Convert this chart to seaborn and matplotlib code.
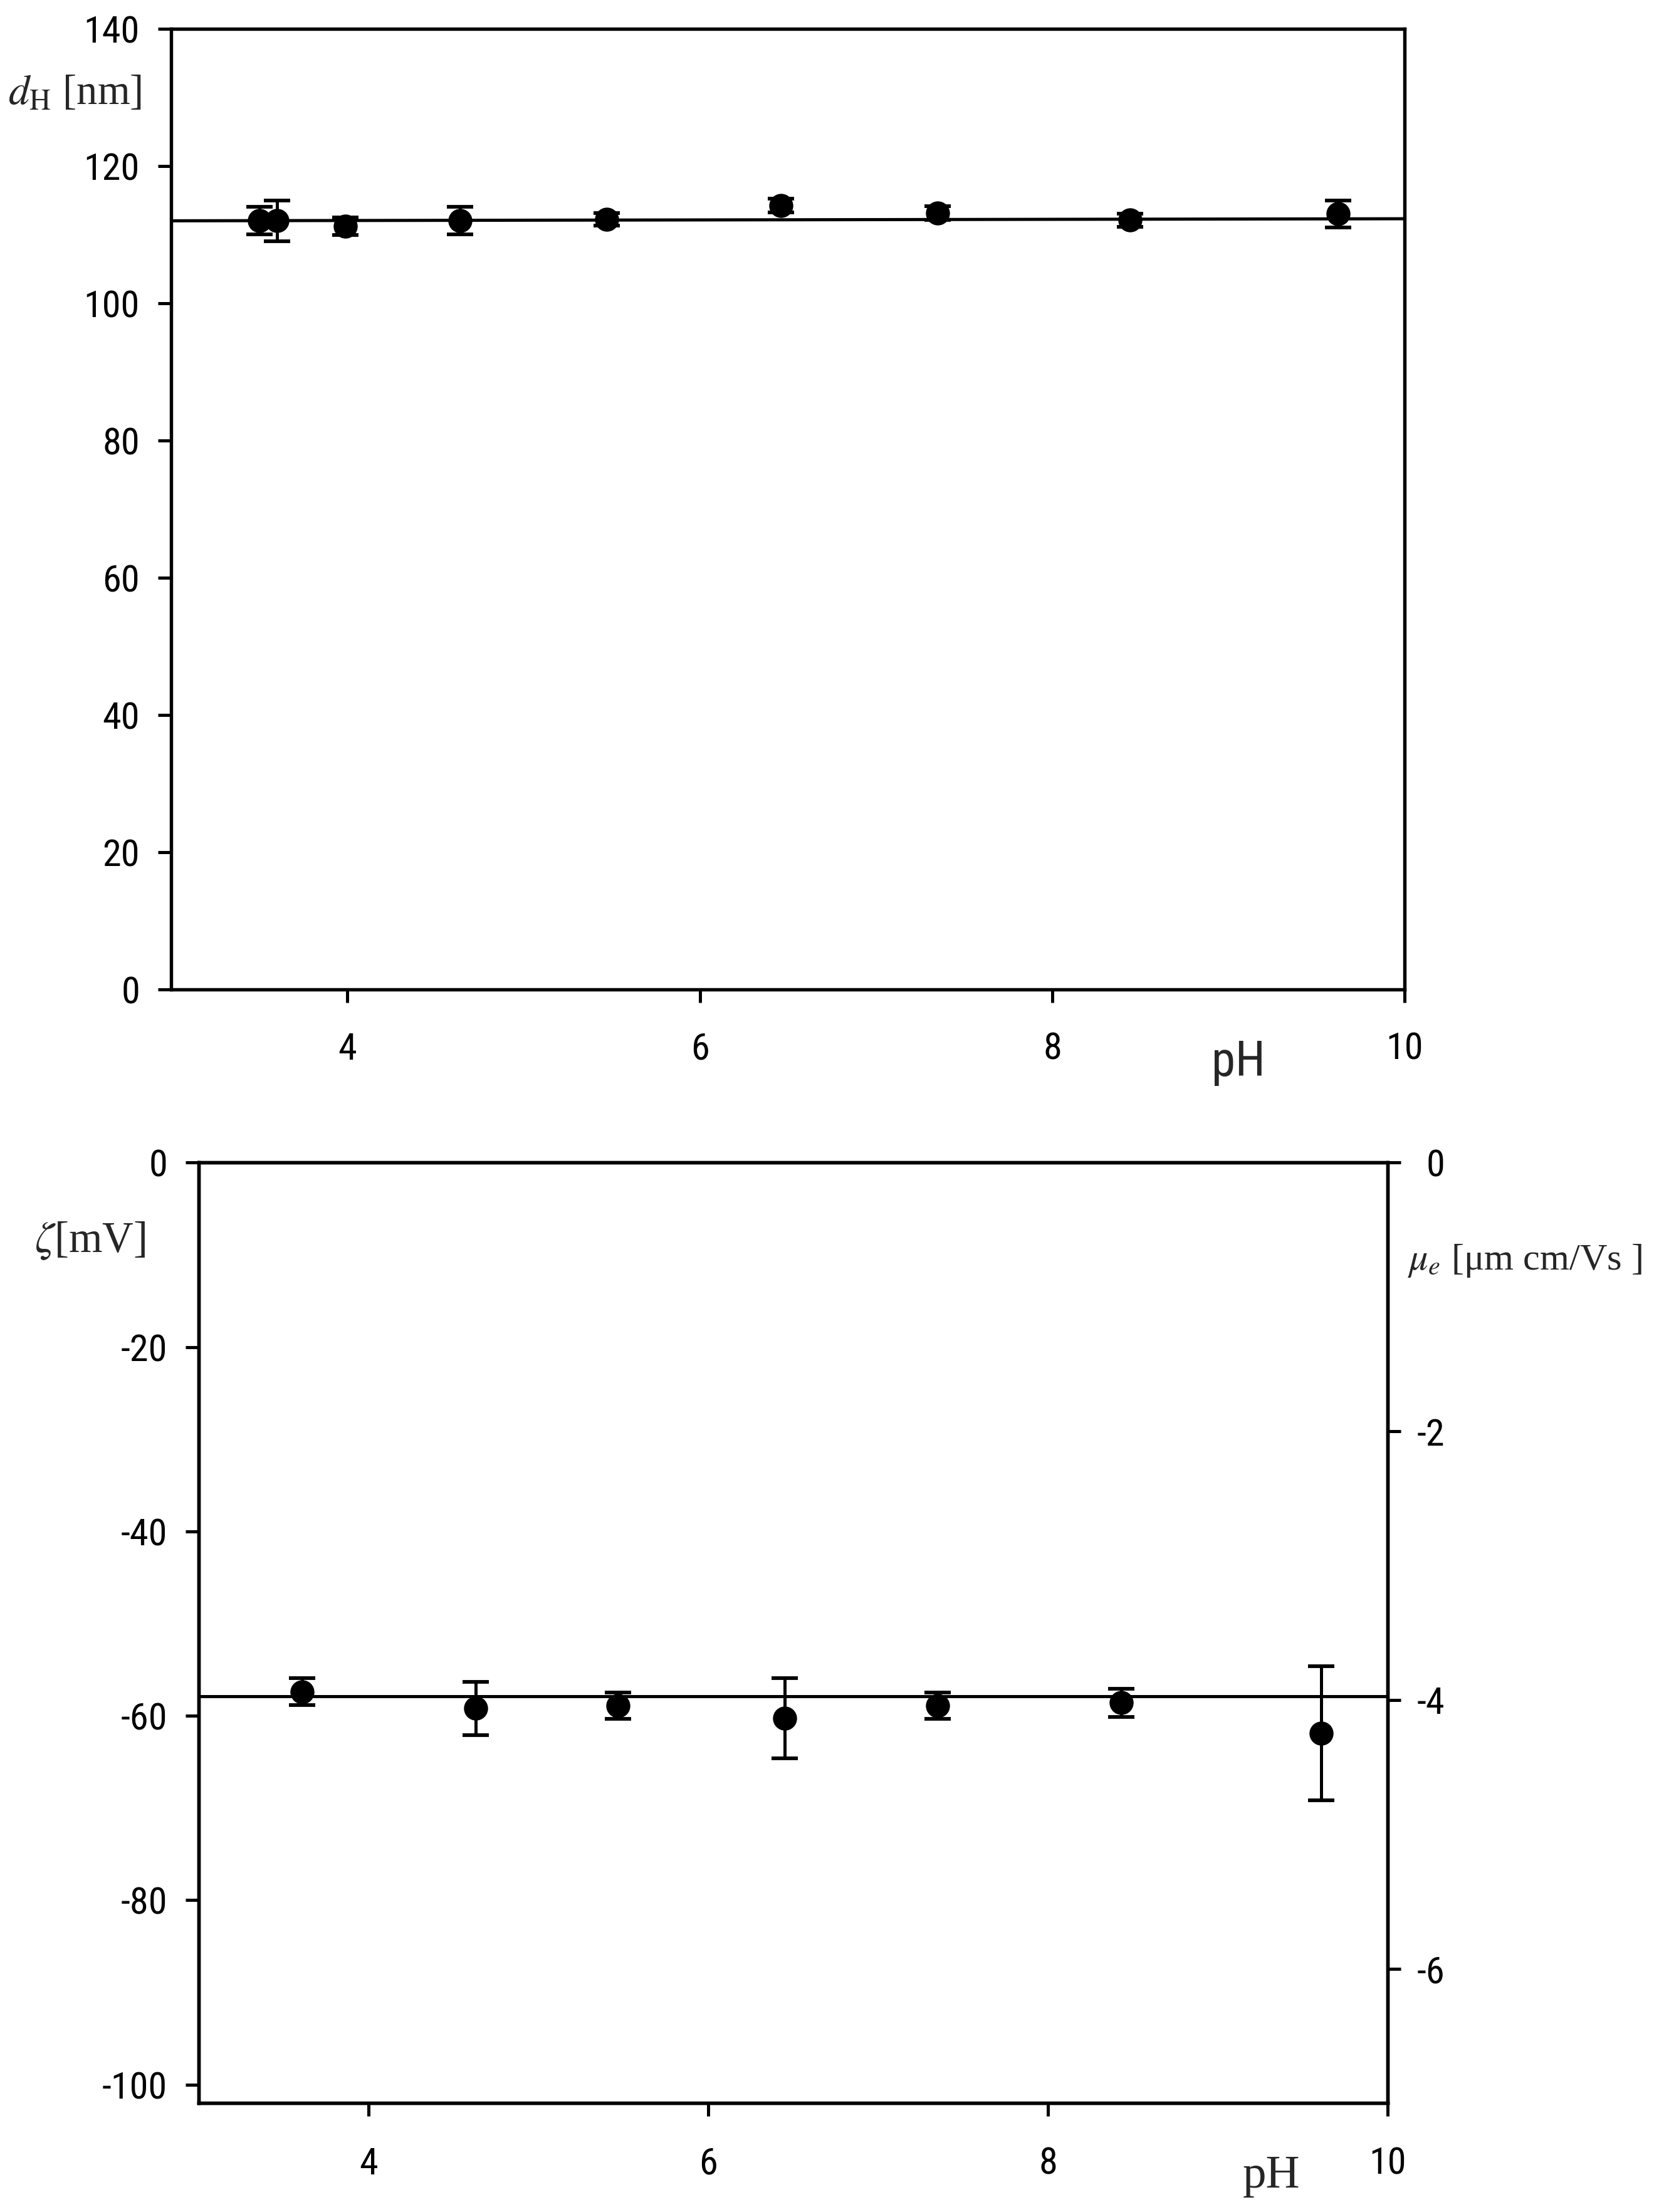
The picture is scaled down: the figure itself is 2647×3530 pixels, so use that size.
import numpy as np
import pandas as pd
import matplotlib
matplotlib.use("Agg")
import matplotlib.pyplot as plt
from matplotlib import font_manager
import seaborn as sns

# hydrodynamic diameter vs pH (top panel)
ph_size = [3.50, 3.60, 3.99, 4.64, 5.47, 6.46, 7.35, 8.44, 9.62]
dh = [112.0, 112.0, 111.2, 112.0, 112.2, 114.2, 113.1, 112.1, 113.0]
dh_err = [2.0, 3.0, 1.3, 2.0, 0.9, 1.0, 1.0, 0.95, 2.0]
dh_fit_ph = [3, 10]
dh_fit = [112.0, 112.3]

# zeta potential vs pH (bottom panel)
ph_zeta = [3.61, 4.63, 5.47, 6.45, 7.35, 8.43, 9.61]
zeta = [-57.4, -59.2, -58.9, -60.3, -58.9, -58.6, -61.9]
zeta_err = [1.45, 2.9, 1.45, 4.35, 1.45, 1.5, 7.25]
zeta_fit_ph = [3, 10]
zeta_fit = [-57.9, -57.9]

ph_ticks = [4, 6, 8, 10]
dh_ticks = [0, 20, 40, 60, 80, 100, 120, 140]
zeta_ticks = [0, -20, -40, -60, -80, -100]
mob_ticks = [0, -2, -4, -6]

# the original uses a narrow sans (Arial Narrow); take a condensed face if one is around
installed = {f.name for f in font_manager.fontManager.ttflist}
narrow = [n for n in ["Liberation Sans Narrow", "Arial Narrow", "Roboto Condensed",
                      "DejaVu Sans Condensed", "Open Sans Condensed"] if n in installed]

sns.set_theme(style="white")
plt.rcParams["font.family"] = narrow + ["Liberation Sans", "DejaVu Sans"]
plt.rcParams["mathtext.fontset"] = "stix"
plt.rcParams["axes.unicode_minus"] = False
plt.rcParams["axes.edgecolor"] = "black"
plt.rcParams["axes.linewidth"] = 1.3

serif = ["Liberation Serif", "DejaVu Serif"]
TICK_FS = 14.5
LW = 1.2

fig = plt.figure(figsize=(2647 / 300, 3530 / 300), dpi=300)
ax1 = fig.add_axes([0.1031, 0.5527, 0.8468 - 0.1031, 0.98705 - 0.5527])
ax2 = fig.add_axes([0.1198, 0.0493, 0.8364 - 0.1198, 0.4744 - 0.0493])


def draw_panel(ax, x, y, err, fit_x, fit_y):
    sns.lineplot(x=fit_x, y=fit_y, ax=ax, color="black", linewidth=LW, zorder=2)
    ax.errorbar(x, y, yerr=err, fmt="none", ecolor="black",
                elinewidth=LW, capsize=5, capthick=LW + 0.2, zorder=2)
    sns.scatterplot(x=x, y=y, ax=ax, color="black", s=85, linewidth=0, zorder=3)
    for sp in ax.spines.values():
        sp.set_color("black")
        sp.set_linewidth(1.3)
    ax.set_xlim(3, 10)
    ax.set_xticks(ph_ticks)
    ax.set_xlabel("")
    ax.set_ylabel("")
    ax.tick_params(axis="both", direction="out", length=5, width=1.2,
                   labelsize=TICK_FS, colors="black", top=False, right=False,
                   bottom=True, left=True)
    ax.tick_params(axis="y", pad=7)


# top: d_H
draw_panel(ax1, ph_size, dh, dh_err, dh_fit_ph, dh_fit)
ax1.set_ylim(0, 140)
ax1.set_yticks(dh_ticks)
ax1.tick_params(axis="x", pad=11)

fig.text(0.0049, 0.953, r"$d_{\mathrm{H}}$ [nm]", family=serif, fontsize=16,
         ha="left", va="baseline")
fig.text(0.7463, 0.5136, "pH", fontsize=18.5, ha="center", va="baseline")

# bottom: zeta potential with mobility on the right
draw_panel(ax2, ph_zeta, zeta, zeta_err, zeta_fit_ph, zeta_fit)
ax2.set_ylim(-102, 0)
ax2.set_yticks(zeta_ticks)
ax2.tick_params(axis="x", pad=11.5)

ax2r = ax2.twinx()
ax2r.set_ylim(-7.0, 0)
ax2r.set_yticks(mob_ticks)
ax2r.set_yticklabels([str(t) for t in mob_ticks], ha="right")
ax2r.tick_params(axis="y", direction="out", length=5, width=1.2,
                 labelsize=TICK_FS, colors="black", pad=17)
for sp in ax2r.spines.values():
    sp.set_color("black")
    sp.set_linewidth(1.3)

fig.text(0.0208, 0.434, r"$\zeta$[mV]", family=serif, fontsize=16.5,
         ha="left", va="baseline")
fig.text(0.8480, 0.4261, r"$\mu_e$ [μm cm/Vs ]", family=serif, fontsize=14.5,
         ha="left", va="baseline")
fig.text(0.7665, 0.0111, "pH", family=serif, fontsize=18, ha="center",
         va="baseline")

fig.savefig("out.png", dpi=300, facecolor="white")
